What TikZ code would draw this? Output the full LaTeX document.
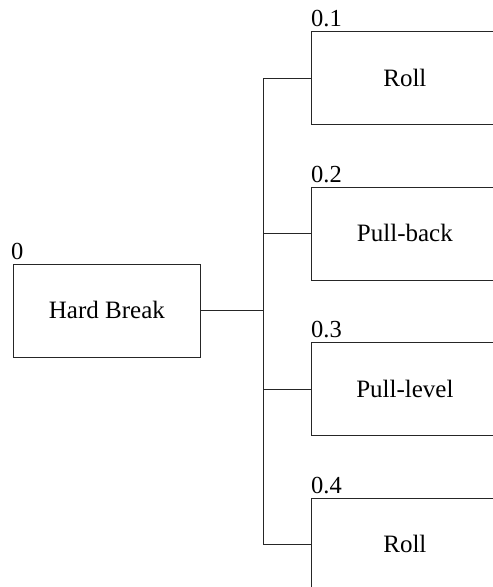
\documentclass[tikz,border=0pt]{standalone}
\usepackage{fontspec}
\setmainfont{Liberation Serif}
\begin{document}
\begin{tikzpicture}[x=1pt,y=-1pt,
  box/.style={draw=black!85,line width=0.8pt,minimum width=187pt,minimum height=93pt,inner sep=0pt,anchor=north west,font=\fontsize{25}{29}\selectfont},
  num/.style={anchor=base west,inner sep=0pt,font=\fontsize{24.5}{28}\selectfont},
  conn/.style={draw=black!85,line width=0.8pt}]
\useasboundingbox (0,0) rectangle (493,587);
\clip (0,0) rectangle (493,587);
\node[box] (hb) at (13,263.5) {Hard Break};
\node[box] (b1) at (311,31) {Roll};
\node[box] (b2) at (311,186.5) {Pull-back};
\node[box] (b3) at (311,342) {Pull-level};
\node[box] (b4) at (311,497.5) {Roll};
\node[num] (l0) at (11,259) {0};
\node[num] (l1) at (311,26.5) {0.1};
\node[num] (l2) at (311,182) {0.2};
\node[num] (l3) at (311,337.5) {0.3};
\node[num] (l4) at (311,493) {0.4};
\coordinate (j) at (263.5,310);
\draw[conn] (hb.east) -- (hb.east -| j);
\draw[conn] (b1.west) -- (b1.west -| j) -- (b4.west -| j) -- (b4.west);
\draw[conn] (b2.west) -- (b2.west -| j);
\draw[conn] (b3.west) -- (b3.west -| j);
\end{tikzpicture}
\end{document}
